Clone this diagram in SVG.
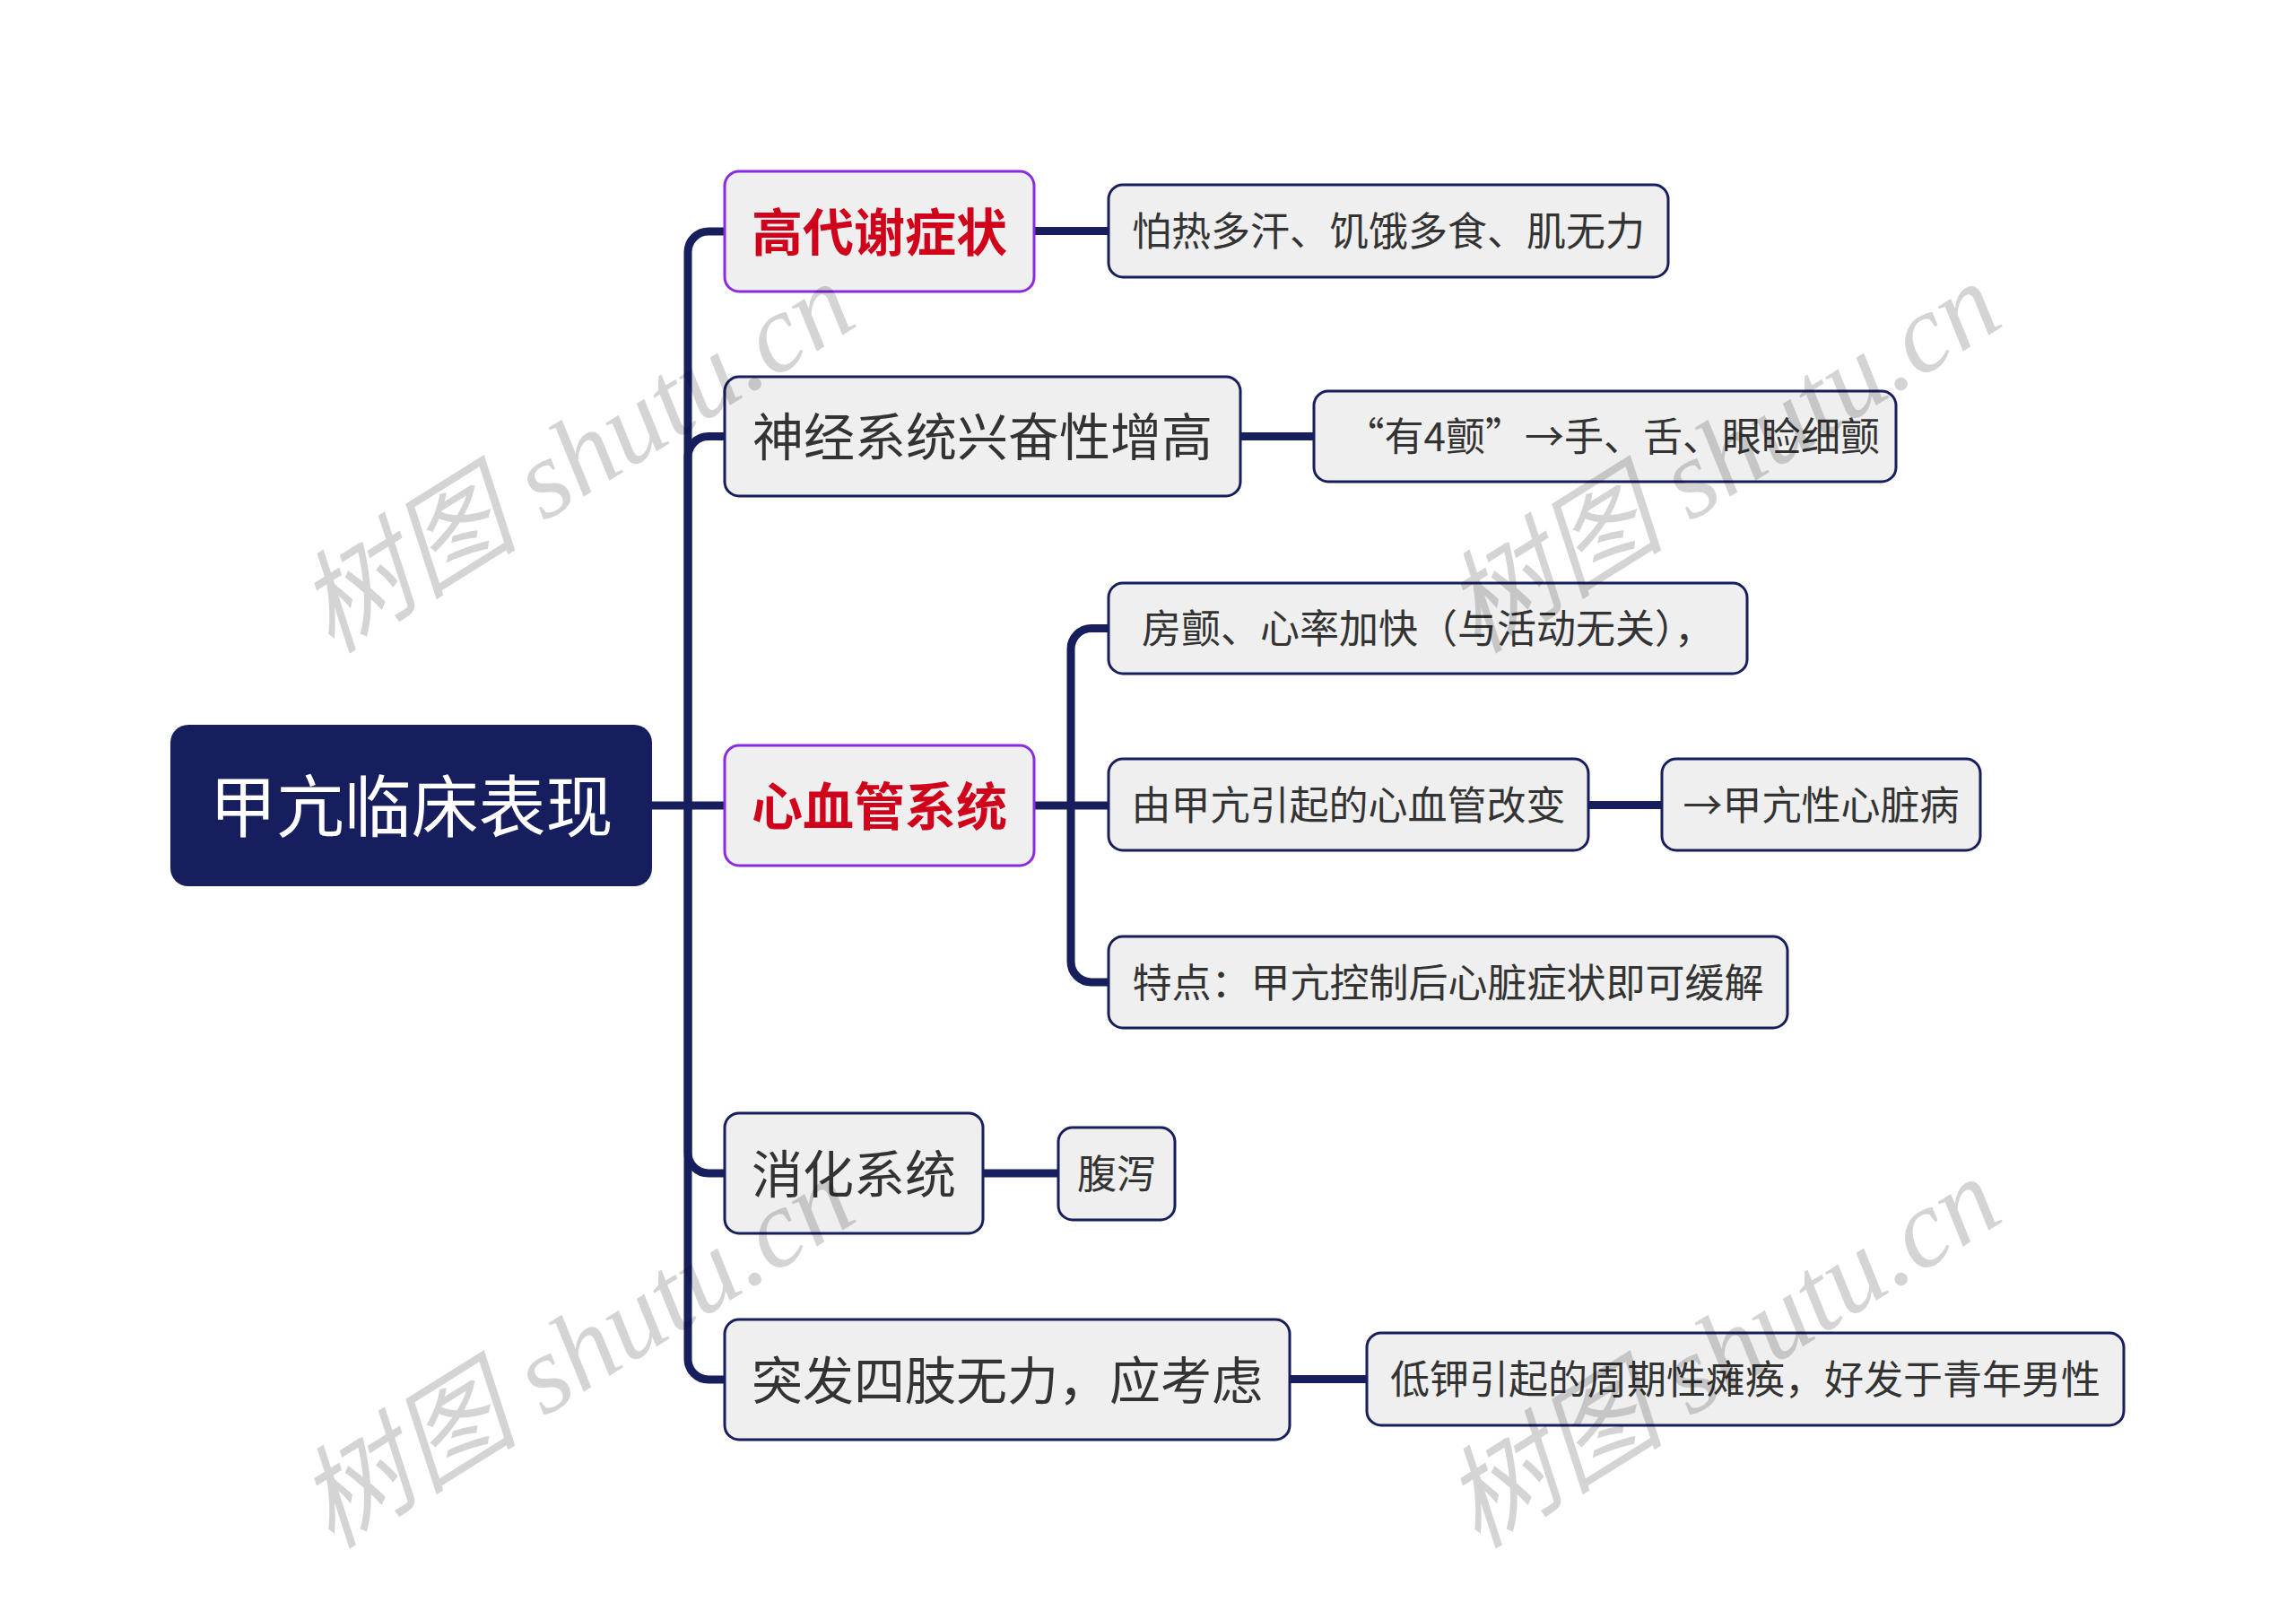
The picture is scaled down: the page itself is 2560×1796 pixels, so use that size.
<svg xmlns="http://www.w3.org/2000/svg" width="2560" height="1796" viewBox="0 0 2560 1796">
<style>
.bg{fill:#ffffff}
.conn{fill:none;stroke:#171e5e;stroke-width:9;stroke-linecap:butt}
.root{fill:#171e5e}
.box{fill:#efefef;stroke:#171e5e;stroke-width:3}
.hl{fill:#efefef;stroke:#8a2be2;stroke-width:3}
.t{font-family:"Noto Sans CJK SC","Noto Sans",sans-serif;fill:#333333}
.rt{font-family:"Noto Sans CJK SC","Noto Sans",sans-serif;fill:#ffffff;font-size:75px}
.l1{font-size:57px}
.red{fill:#d0021b;font-weight:bold}
.l2{font-size:44px}
.wm{font-family:"Liberation Serif","Noto Sans CJK SC",serif;font-style:italic;font-size:124px;fill:#000000;fill-opacity:0.17}
</style>
<rect class="bg" x="0" y="0" width="2560" height="1796"/>
<g id="connectors">
<path class="conn" d="M767,898 V281 A23,23 0 0 1 790,258 H808"/>
<path class="conn" d="M767,898 V509.5 A23,23 0 0 1 790,486.5 H808"/>
<path class="conn" d="M727,898 H808"/>
<path class="conn" d="M767,898 V1285 A23,23 0 0 0 790,1308 H808"/>
<path class="conn" d="M767,898 V1515 A23,23 0 0 0 790,1538 H808"/>
<path class="conn" d="M1153,898 H1236"/>
<path class="conn" d="M1194,898 V723.5 A23,23 0 0 1 1217,700.5 H1236"/>
<path class="conn" d="M1194,898 V1072 A23,23 0 0 0 1217,1095 H1236"/>
<path class="conn" d="M1153,257.5 H1236"/>
<path class="conn" d="M1383,486.5 H1465"/>
<path class="conn" d="M1096,1308 H1180"/>
<path class="conn" d="M1438,1537.5 H1524"/>
<path class="conn" d="M1771,897.5 H1853"/>
</g>
<g id="root">
<rect class="root" x="190" y="808" width="537" height="180" rx="20"/>
<text class="rt" x="458.5" y="926.5" text-anchor="middle">甲亢临床表现</text>
</g>
<g id="n1">
<rect class="hl" x="808" y="191" width="345" height="134" rx="16"/>
<text class="t l1 red" x="980.5" y="279.7" text-anchor="middle">高代谢症状</text>
</g>
<g id="n2">
<rect class="box" x="808" y="420" width="575" height="133" rx="16"/>
<text class="t l1" x="1095.5" y="508" text-anchor="middle">神经系统兴奋性增高</text>
</g>
<g id="n3">
<rect class="hl" x="808" y="831" width="345" height="134" rx="16"/>
<text class="t l1 red" x="980.5" y="919.7" text-anchor="middle">心血管系统</text>
</g>
<g id="n4">
<rect class="box" x="808" y="1241" width="288" height="134" rx="16"/>
<text class="t l1" x="952" y="1329.7" text-anchor="middle">消化系统</text>
</g>
<g id="n5">
<rect class="box" x="808" y="1471" width="630" height="134" rx="16"/>
<text class="t l1" x="1123" y="1559.7" text-anchor="middle">突发四肢无力，应考虑</text>
</g>
<g id="n1a">
<rect class="box" x="1236" y="206" width="624" height="103" rx="16"/>
<text class="t l2" x="1548" y="274.2" text-anchor="middle">怕热多汗、饥饿多食、肌无力</text>
</g>
<g id="n2a">
<rect class="box" x="1465" y="436" width="649" height="101" rx="16"/>
<text class="t l2" x="2096" y="503.2" text-anchor="end">“有4颤”→手、舌、眼睑细颤</text>
</g>
<g id="n3a">
<rect class="box" x="1236" y="650" width="712" height="101" rx="16"/>
<text class="t l2" x="1592" y="717.2" text-anchor="middle">房颤、心率加快（与活动无关），</text>
</g>
<g id="n3b">
<rect class="box" x="1236" y="846" width="535" height="102" rx="16"/>
<text class="t l2" x="1503.5" y="914.2" text-anchor="middle">由甲亢引起的心血管改变</text>
</g>
<g id="n3b1">
<rect class="box" x="1853" y="846" width="355" height="102" rx="16"/>
<text class="t l2" x="2030.5" y="914.2" text-anchor="middle">→甲亢性心脏病</text>
</g>
<g id="n3c">
<rect class="box" x="1236" y="1044" width="757" height="102" rx="16"/>
<text class="t l2" x="1614.5" y="1111.7" text-anchor="middle">特点：甲亢控制后心脏症状即可缓解</text>
</g>
<g id="n4a">
<rect class="box" x="1180" y="1257" width="130" height="103" rx="16"/>
<text class="t l2" x="1245" y="1325.2" text-anchor="middle">腹泻</text>
</g>
<g id="n5a">
<rect class="box" x="1524" y="1486" width="844" height="103" rx="16"/>
<text class="t l2" x="1946" y="1554.2" text-anchor="middle">低钾引起的周期性瘫痪，好发于青年男性</text>
</g>
<g id="watermark">
<text class="wm" x="645" y="551" text-anchor="middle" transform="rotate(-32 645 514)">树图 shutu.cn</text>
<text class="wm" x="1923" y="551" text-anchor="middle" transform="rotate(-32 1923 514)">树图 shutu.cn</text>
<text class="wm" x="645" y="1549" text-anchor="middle" transform="rotate(-32 645 1512)">树图 shutu.cn</text>
<text class="wm" x="1923" y="1549" text-anchor="middle" transform="rotate(-32 1923 1512)">树图 shutu.cn</text>
</g>
</svg>
